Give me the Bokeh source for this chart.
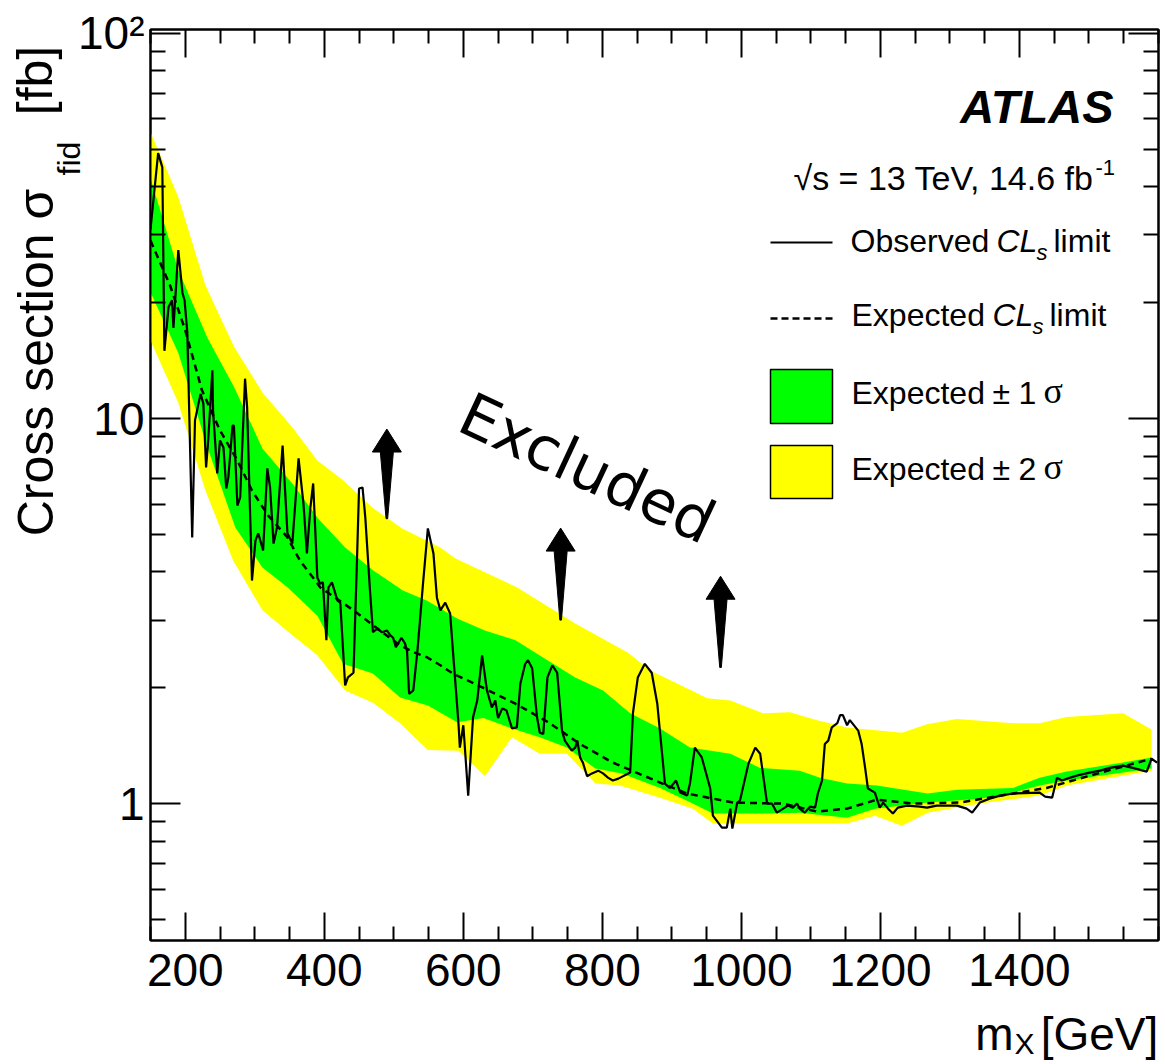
import math
from bokeh.plotting import figure
from bokeh.models import Range1d, FixedTicker, LinearAxis, LogAxis, Label
from bokeh.embed import file_html
from bokeh.resources import INLINE

# ---------------- data ----------------
obs_mass = [150, 161, 167, 170, 176, 181, 183, 190, 196, 199,
            203, 210, 214, 222, 226, 230, 233, 239, 240, 246,
            250, 255, 259, 262, 268, 270, 275, 279, 286, 289,
            296, 301, 305, 312, 318, 322, 327, 332, 340, 347,
            354, 363, 370, 375, 380, 384, 390, 394, 398, 403,
            406, 411, 419, 423, 430, 434, 442, 447, 450, 455,
            459, 466, 470, 476, 483, 490, 495, 499, 503, 511,
            516, 519, 522, 528, 534, 542, 549, 557, 562, 567,
            574, 581, 585, 593, 595, 600, 607, 614, 620, 627,
            634, 641, 646, 650, 656, 662, 670, 677, 682, 689,
            693, 699, 706, 710, 715, 721, 728, 735, 742, 746,
            756, 761, 764, 768, 772, 778, 785, 794, 801, 808,
            815, 823, 840, 844, 851, 861, 871, 879, 890, 897,
            906, 912, 922, 926, 933, 943, 955, 959, 972, 979,
            984, 987, 994, 998, 1010, 1020, 1027, 1037, 1044, 1051,
            1067, 1074, 1080, 1084, 1091, 1099, 1106, 1110, 1116, 1120,
            1125, 1130, 1138, 1142, 1146, 1152, 1156, 1168, 1173, 1178,
            1182, 1192, 1199, 1204, 1211, 1218, 1225, 1238, 1257, 1267,
            1281, 1310, 1324, 1332, 1343, 1357, 1372, 1391, 1429, 1437,
            1447, 1454, 1461, 1473, 1487, 1501, 1516, 1530, 1549, 1563,
            1583, 1590, 1598]
obs_xsec = [31.0, 48.9, 44.9, 15.0, 19.5, 20.3, 17.2, 27.4, 21.2, 20.3,
            16.7, 4.92, 9.9, 11.6, 10.96, 7.47, 8.78, 13.35, 10.5, 7.21,
            8.78, 8.42, 6.59, 7.04, 9.6, 9.6, 5.95, 6.25, 12.7, 10.7,
            3.80, 4.83, 5.04, 4.55, 7.43, 6.63, 4.74, 5.22, 8.52, 5.04,
            4.74, 7.89, 6.03, 4.47, 5.88, 6.79, 3.87, 3.73, 3.76, 2.66,
            3.65, 3.76, 3.37, 3.33, 2.03, 2.13, 2.19, 4.28, 6.59, 6.63,
            5.54, 3.52, 2.79, 2.85, 2.79, 2.82, 2.74, 2.70, 2.55, 2.70,
            2.61, 2.50, 1.93, 1.97, 2.50, 3.73, 5.19, 4.47, 3.43, 3.18,
            3.33, 3.12, 2.50, 1.62, 1.40, 1.60, 1.051, 1.68, 1.855, 2.43,
            1.97, 1.78, 1.855, 1.67, 1.77, 1.75, 1.57, 1.58, 2.05, 2.31,
            2.36, 2.25, 1.68, 1.53, 1.52, 2.13, 2.29, 2.19, 1.55, 1.46,
            1.375, 1.40, 1.46, 1.32, 1.28, 1.18, 1.20, 1.22, 1.20, 1.17,
            1.15, 1.163, 1.206, 1.72, 2.13, 2.31, 2.19, 1.82, 1.129, 1.10,
            1.15, 1.07, 1.051, 1.129, 1.40, 1.32, 1.10, 0.932, 0.868, 0.868,
            0.972, 0.863, 1.008, 1.02, 1.27, 1.40, 1.35, 1.002, 1.002, 0.949,
            0.99, 0.978, 1.002, 0.972, 0.949, 0.984, 0.978, 1.064, 1.15, 1.43,
            1.46, 1.58, 1.62, 1.70, 1.70, 1.60, 1.65, 1.55, 1.43, 1.24,
            1.096, 1.07, 0.978, 1.008, 0.972, 0.944, 0.978, 0.99, 0.984, 0.978,
            0.99, 0.99, 0.972, 0.949, 1.008, 1.032, 1.051, 1.064, 1.07, 1.045,
            1.038, 1.17, 1.15, 1.17, 1.19, 1.206, 1.22, 1.24, 1.257, 1.24,
            1.213, 1.31, 1.28]

exp_mass = [150, 178, 200, 224, 250, 275, 296, 319, 347, 365,
            387, 394, 442, 480, 509, 528, 548, 567, 585, 629,
            675, 722, 768, 815, 883, 922, 988, 1060, 1109, 1152,
            1195, 1247, 1314, 1391, 1439, 1534, 1590]
exp_xsec = [29.0, 22.2, 16.96, 11.85, 9.32, 7.79, 6.51, 5.61, 4.92, 4.28,
            3.80, 3.65, 3.18, 2.82, 2.58, 2.48, 2.40, 2.29, 2.18, 2.00,
            1.82, 1.63, 1.43, 1.28, 1.136, 1.064, 1.008, 1.002, 0.955, 0.972,
            1.026, 1.002, 1.008, 1.064, 1.10, 1.23, 1.31]

band2_up_mass = [150, 190, 229, 270, 311, 354, 390, 427, 469, 512,
                 567, 588, 677, 761, 837, 869, 951, 984, 1031, 1070,
                 1109, 1152, 1231, 1267, 1310, 1391, 1429, 1468, 1549, 1590]
band2_up = [55.5, 37.6, 22.2, 15.4, 11.7, 9.5, 7.79, 6.92, 5.88, 5.19,
            4.63, 4.34, 3.65, 2.94, 2.47, 2.22, 1.88, 1.855, 1.72, 1.73,
            1.65, 1.58, 1.53, 1.61, 1.66, 1.62, 1.62, 1.68, 1.72, 1.56]
band2_lo_mass = [150, 190, 229, 269, 311, 351, 390, 430, 470, 509,
                 549, 593, 631, 670, 710, 749, 790, 825, 883, 930,
                 959, 1084, 1152, 1192, 1231, 1268, 1343, 1429, 1468, 1590]
band2_lo = [15.95, 11.0, 6.51, 4.28, 3.18, 2.77, 2.43, 1.97, 1.83, 1.62,
            1.38, 1.375, 1.18, 1.49, 1.35, 1.35, 1.129, 1.116, 1.038, 0.972,
            0.889, 0.889, 0.889, 0.932, 0.878, 0.949, 1.002, 1.051, 1.116, 1.22]

band1_up_mass = [150, 190, 232, 270, 311, 354, 391, 430, 470, 513,
                 548, 591, 631, 675, 721, 761, 801, 840, 883, 926,
                 984, 1027, 1084, 1113, 1152, 1195, 1268, 1310, 1391, 1429,
                 1468, 1549, 1590]
band1_up = [42.1, 24.3, 16.2, 12.1, 8.37, 6.79, 5.51, 4.63, 4.04, 3.58,
            3.37, 3.03, 2.82, 2.66, 2.36, 2.13, 1.97, 1.72, 1.57, 1.40,
            1.35, 1.24, 1.22, 1.17, 1.129, 1.116, 1.064, 1.089, 1.10, 1.17,
            1.213, 1.28, 1.32]
band1_lo_mass = [150, 190, 232, 272, 311, 347, 390, 427, 470, 509,
                 549, 591, 629, 670, 710, 749, 790, 828, 883, 930,
                 959, 1037, 1084, 1152, 1192, 1268, 1343, 1391, 1429, 1468,
                 1590]
band1_lo = [21.3, 14.8, 8.42, 5.22, 4.11, 3.65, 3.08, 2.31, 2.18, 1.89,
            1.80, 1.63, 1.67, 1.57, 1.49, 1.40, 1.235, 1.199, 1.10, 1.002,
            0.944, 0.944, 0.949, 0.921, 0.972, 1.008, 1.032, 1.07, 1.116, 1.15,
            1.235]

arrow_mass = [490, 740, 970]
arrow_tip = [9.4, 5.2, 3.9]
arrow_tail = [5.5, 3.0, 2.26]

x_major = [200, 400, 600, 800, 1000, 1200, 1400]
x_minor = [m for m in range(150, 1601, 50) if m not in x_major]
y_major = [1, 10, 100]
y_minor = [0.5, 0.6, 0.7, 0.8, 0.9, 2, 3, 4, 5, 6, 7, 8, 9,
           20, 30, 40, 50, 60, 70, 80, 90]
y_labels = {1: "1", 10: "10", 100: "10\u00b2"}

for a, b in [(obs_mass, obs_xsec), (exp_mass, exp_xsec), (band2_up_mass, band2_up),
             (band2_lo_mass, band2_lo), (band1_up_mass, band1_up), (band1_lo_mass, band1_lo)]:
    if len(a) != len(b):
        raise ValueError("length mismatch %d %d" % (len(a), len(b)))

# ---------------- layout (page pixels; the Bokeh page has no body margin) ----------------
X0, X1 = 150, 1600
Y0, Y1 = 0.442, 102.4
FW, FH = 1008, 911
ML, MT, MR, MB = 150, 29, 6, 124
FL = ML                 # frame left in page px
FT = MT                 # frame top in page px
FB = FT + FH            # frame bottom in page px
LY0, LY1 = math.log10(Y0), math.log10(Y1)

def px2x(px):
    return X0 + (px - FL) / FW * (X1 - X0)

def py2y(py):
    return 10 ** (LY1 - (py - FT) / FH * (LY1 - LY0))

def x2px(x):
    return FL + (x - X0) / (X1 - X0) * FW

def y2py(y):
    return FT + (LY1 - math.log10(y)) / (LY1 - LY0) * FH

SANS = "Liberation Sans"
SERIF = "Liberation Serif"

p = figure(frame_width=FW, frame_height=FH,
           x_range=Range1d(X0, X1), y_range=Range1d(Y0, Y1),
           y_axis_type="log", output_backend="svg", toolbar_location=None,
           min_border_left=ML, min_border_top=MT, min_border_right=MR,
           min_border_bottom=MB, background_fill_color="white",
           border_fill_color="white")
p.grid.visible = False
p.outline_line_color = "black"
p.outline_line_width = 2

xt = FixedTicker(ticks=x_major, minor_ticks=x_minor)
yt = FixedTicker(ticks=y_major, minor_ticks=y_minor)

def style_axis(ax, major_in, minor_in):
    ax.axis_line_width = 2
    ax.axis_line_color = "black"
    ax.major_tick_line_width = 2
    ax.minor_tick_line_width = 2
    ax.major_tick_in = major_in
    ax.major_tick_out = 0
    ax.minor_tick_in = minor_in
    ax.minor_tick_out = 0

xa = p.xaxis[0]
xa.ticker = xt
style_axis(xa, 28, 14)
xa.major_label_text_font = SANS
xa.major_label_text_font_size = "46px"
xa.major_label_text_color = "black"
xa.major_label_standoff = 13

ya = p.yaxis[0]
ya.ticker = yt
style_axis(ya, 30, 15)
ya.major_label_overrides = y_labels
ya.major_label_text_font = SANS
ya.major_label_text_font_size = "46px"
ya.major_label_text_color = "black"
ya.major_label_standoff = 6

top = LinearAxis(ticker=xt, major_label_overrides={t: "" for t in x_major},
                 major_label_standoff=0, major_label_text_font_size="10px")
style_axis(top, 28, 14)
p.add_layout(top, "above")
right = LogAxis(ticker=yt, major_label_overrides={t: "" for t in y_major},
                major_label_standoff=0, major_label_text_font_size="10px")
style_axis(right, 30, 15)
p.add_layout(right, "right")

# ---------------- axis titles: label-only axes stacked outside the frame ----------------
def text_axis(side, positions, texts, size, standoff, orientation="horizontal",
              font=SANS, style="normal"):
    ticks = [float("%.7g" % v) for v in positions]
    ax = LinearAxis(ticker=FixedTicker(ticks=ticks, minor_ticks=[]),
                    major_label_overrides=dict(zip(ticks, texts)),
                    major_label_standoff=standoff, major_label_text_font=font,
                    major_label_text_font_size="%dpx" % size,
                    major_label_text_font_style=style, major_label_text_color="black",
                    major_label_orientation=orientation,
                    axis_line_color=None, major_tick_line_color=None,
                    minor_tick_line_color=None, major_tick_in=0, major_tick_out=0,
                    minor_tick_in=0, minor_tick_out=0)
    p.add_layout(ax, side)

# x title: "m_X [GeV]"
text_axis("below", [px2x(1024)], ["X"], 30, 38)
text_axis("below", [px2x(994), px2x(1099)], ["m", "[GeV]"], 46, -55)
# y title: "Cross section sigma_fid [fb]"
text_axis("left", [py2y(158)], ["fid"], 32, -12, orientation="vertical")
text_axis("left", [py2y(362), py2y(80)], ["Cross section \u03c3", "[fb]"], 50, -15,
          orientation="vertical")

# ---------------- bands and lines ----------------
p.patch(band2_up_mass + band2_lo_mass[::-1], band2_up + band2_lo[::-1],
        fill_color="#ffff00", line_color=None)
p.patch(band1_up_mass + band1_lo_mass[::-1], band1_up + band1_lo[::-1],
        fill_color="#00ff00", line_color=None)
p.line(exp_mass, exp_xsec, line_color="black", line_width=2.5, line_dash="7 5")
p.line(obs_mass, obs_xsec, line_color="black", line_width=2.2)

# arrows
axs, ays = [], []
for m, tip, tail in zip(arrow_mass, arrow_tip, arrow_tail):
    tx, ty, by = x2px(m), y2py(tip), y2py(tail)
    pts = [(tx, ty), (tx + 14.5, ty + 23), (tx + 6.5, ty + 23), (tx + 0.8, by),
           (tx - 0.8, by), (tx - 6.5, ty + 23), (tx - 14.5, ty + 23)]
    axs.append([px2x(a) for a, b in pts])
    ays.append([py2y(b) for a, b in pts])
p.patches(axs, ays, fill_color="black", line_color="black", line_width=1)

# legend samples
p.line([px2x(770), px2x(832)], [py2y(242), py2y(242)], line_color="black", line_width=2)
p.line([px2x(770), px2x(832)], [py2y(318), py2y(318)], line_color="black",
       line_width=2.5, line_dash="7 4")
p.quad(left=[px2x(770)], right=[px2x(832)], top=[py2y(369)], bottom=[py2y(423)],
       fill_color="#00ff00", line_color="black", line_width=1.5)
p.quad(left=[px2x(770)], right=[px2x(832)], top=[py2y(445)], bottom=[py2y(498)],
       fill_color="#ffff00", line_color="black", line_width=1.5)

# ---------------- texts inside the frame ----------------
def label(text, px, py, size, font=SANS, style="normal", align="left", angle=0.0):
    # py is the wanted baseline; the drawn text sits ~0.45 em below the anchor
    p.add_layout(Label(x=px - FL, y=FB - (py - 0.45 * size), x_units="screen",
                       y_units="screen", text=text, text_font=font,
                       text_font_size="%dpx" % size, text_font_style=style,
                       text_align=align, text_baseline="alphabetic", angle=angle,
                       text_color="black"))

label("ATLAS", 1113, 127, 47, style="bold italic", align="right")
label("\u221as = 13 TeV, 14.6 fb", 1093, 193, 34, align="right")
label("-1", 1095, 177, 22)

label("Observed", 850, 255, 32)
label("CL", 996, 255, 32, style="italic")
label("s", 1036, 262, 22, style="italic")
label("limit", 1053, 255, 32)
label("Expected", 851, 329, 32)
label("CL", 992, 329, 32, style="italic")
label("s", 1032, 336, 22, style="italic")
label("limit", 1049, 329, 32)
label("Expected", 851, 407, 32)
label("\u00b1", 992, 407, 32)
label("1", 1018, 407, 32)
label("\u03c3", 1043, 407, 36, font=SERIF)
label("Expected", 851, 483, 32)
label("\u00b1", 992, 483, 32)
label("2", 1018, 483, 32)
label("\u03c3", 1043, 483, 36, font=SERIF)

p.add_layout(Label(x=463 - FL, y=FB - 410, x_units="screen", y_units="screen",
                   text="Excluded", text_font="DejaVu Sans", text_font_size="60px",
                   text_baseline="alphabetic", angle=-25 * math.pi / 180,
                   text_color="black"))

open("out.html", "w").write(file_html(p, INLINE))
